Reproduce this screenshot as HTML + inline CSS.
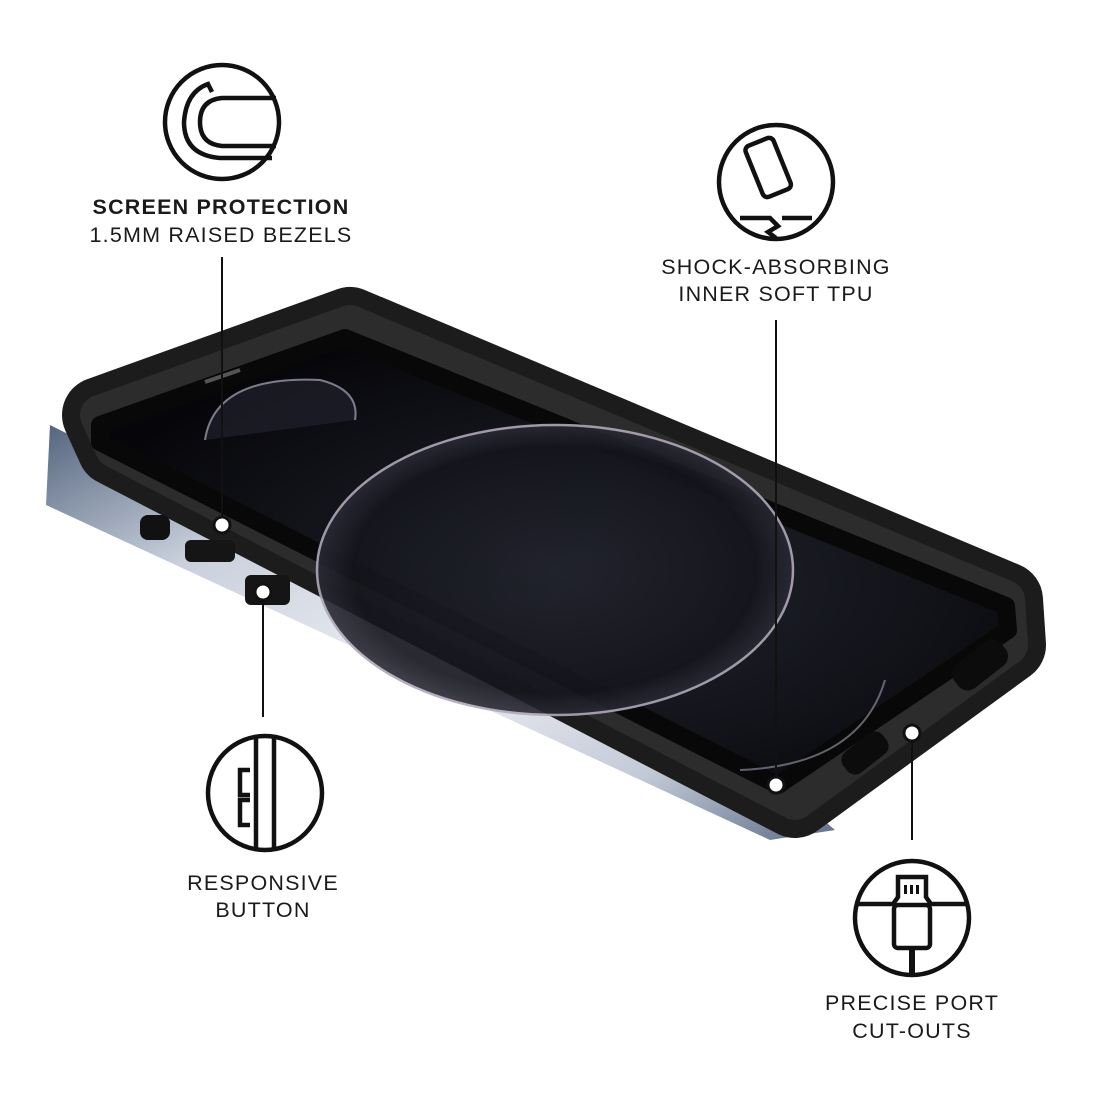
<!DOCTYPE html>
<html><head><meta charset="utf-8"><style>
html,body{margin:0;padding:0;background:#fff;}
svg{display:block}
text{font-family:"Liberation Sans",sans-serif;fill:#1a1a1a;text-anchor:middle;font-size:21.5px;letter-spacing:1.2px}
</style></head><body>
<svg width="1100" height="1100" viewBox="0 0 1100 1100" xmlns="http://www.w3.org/2000/svg">
<defs>
<linearGradient id="mar" x1="0" y1="0" x2="1" y2="1">
<stop offset="0" stop-color="#55657f"/><stop offset="0.25" stop-color="#c9d0dc"/><stop offset="0.55" stop-color="#eef0f4"/><stop offset="0.8" stop-color="#c3cad7"/><stop offset="1" stop-color="#5f6f8a"/>
</linearGradient>
<radialGradient id="scr" cx="0.55" cy="0.55" r="0.6">
<stop offset="0" stop-color="#22242e"/><stop offset="0.6" stop-color="#121319"/><stop offset="1" stop-color="#06060a"/>
</radialGradient>
<radialGradient id="bub" cx="0.5" cy="0.5" r="0.5">
<stop offset="0" stop-color="#22232d"/><stop offset="0.85" stop-color="#15161d"/><stop offset="1" stop-color="#2a2a36"/>
</radialGradient>
</defs>
<polygon points="50,425 800,800 835,830 770,840 46,505" fill="url(#mar)"/>
<polygon points="100,415 350,325 1005,600 1008,645 795,800 115,448" fill="#1c1c1c" stroke="#1c1c1c" stroke-width="76" stroke-linejoin="round"/>
<polygon points="100,415 350,325 1005,600 1008,645 795,800 115,448" fill="none" stroke="#2c2c2c" stroke-width="40" stroke-linejoin="round"/>
<polygon points="100,425 345,338 1006,606 1008,630 778,785 100,442" fill="url(#scr)" stroke="#080808" stroke-width="18" stroke-linejoin="round"/>
<ellipse cx="555" cy="570" rx="238" ry="145" fill="url(#bub)" stroke="#b0a8b8" stroke-width="2.5" opacity="0.9"/>
<path d="M205 440 Q215 375 320 380 Q360 390 355 420" fill="#1d1e28" stroke="#9a9aaa" stroke-width="2" opacity="0.8"/>
<path d="M740 770 Q860 765 885 680" fill="none" stroke="#8a8a9a" stroke-width="2" opacity="0.7"/>
<path d="M205 382 L240 370" stroke="#555" stroke-width="4"/>
<rect x="140" y="515" width="30" height="25" rx="8" fill="#111"/>
<rect x="185" y="540" width="50" height="22" rx="6" fill="#151515"/>
<rect x="245" y="575" width="45" height="30" rx="6" fill="#151515"/>
<rect x="950" y="650" width="60" height="30" rx="12" fill="#0c0c0c" transform="rotate(-38 980 665)"/>
<rect x="840" y="740" width="50" height="26" rx="10" fill="#0c0c0c" transform="rotate(-38 865 753)"/>
<g stroke="#111" stroke-width="2">
<line x1="222" y1="257" x2="222" y2="525"/>
<line x1="776" y1="320" x2="776" y2="785"/>
<line x1="263" y1="592" x2="263" y2="717"/>
<line x1="912" y1="733" x2="912" y2="840"/>
</g>
<g fill="#fff" stroke="#111" stroke-width="3">
<circle cx="222" cy="525" r="8"/><circle cx="776" cy="785" r="8"/><circle cx="263" cy="592" r="8"/><circle cx="912" cy="733" r="8"/>
</g>
<g fill="none" stroke="#111" stroke-width="4.5">
<circle cx="222" cy="122" r="57"/>
<path d="M276 98 L222 98 Q200 100 200 122 Q200 144 222 146 L276 146"/>
<path d="M272 158 L220 158 Q184 155 184 122 Q186 92 208 84 L212 92"/>
<circle cx="776" cy="182" r="57"/>
<rect x="753" y="140" width="30" height="55" rx="5" transform="rotate(-22 768 167)"/>
<path d="M740 218 L770 218 L778 226 L768 232 L776 238 M782 218 L812 218"/>
<circle cx="265" cy="793" r="57"/>
<path d="M256 737 L256 850 M274 738 L274 848 M250 770 L240 770 L240 795 L250 795 M250 800 L240 800 L240 825 L250 825"/>
<circle cx="912" cy="918" r="57"/>
<path d="M858 904 L893 904 L898 897 L898 877 L926 877 L926 897 L931 904 L966 904"/>
<rect x="894" y="905" width="36" height="43" rx="4"/>
<path d="M912 948 L912 975" stroke-width="6"/>
</g>
<g fill="#111"><rect x="904" y="885" width="3" height="9"/><rect x="910" y="885" width="3" height="9"/><rect x="916" y="885" width="3" height="9"/></g>
<text x="221" y="214" font-weight="bold">SCREEN PROTECTION</text>
<text x="221" y="242">1.5MM RAISED BEZELS</text>
<text x="776" y="274">SHOCK-ABSORBING</text>
<text x="776" y="301">INNER SOFT TPU</text>
<text x="263" y="890">RESPONSIVE</text>
<text x="263" y="917">BUTTON</text>
<text x="912" y="1010">PRECISE PORT</text>
<text x="912" y="1038">CUT-OUTS</text>
</svg>
</body></html>
